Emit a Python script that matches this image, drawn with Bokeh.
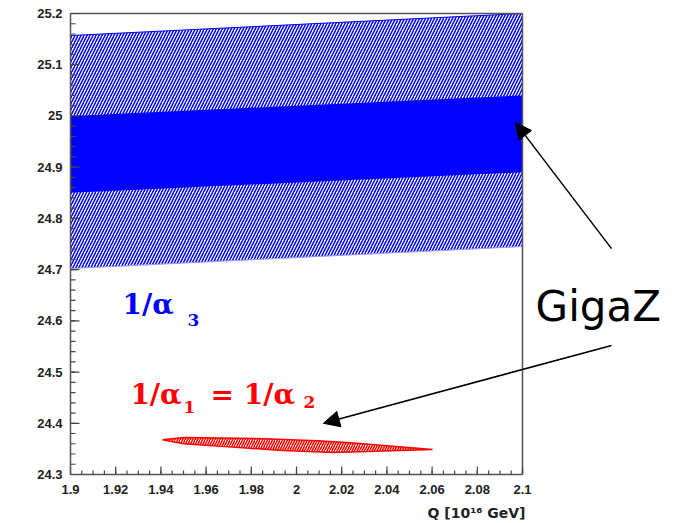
from bokeh.plotting import figure
from bokeh.models import Label, Arrow, NormalHead, ColumnDataSource, FixedTicker
from bokeh.embed import file_html
from bokeh.resources import INLINE

# ---- data ----
band_x = [1.9, 2.1]
outer_lo = [24.702, 24.745]
outer_hi = [25.157, 25.200]
inner_lo = [24.850, 24.890]
inner_hi = [25.000, 25.040]

ell_x = [1.9407, 1.950, 1.9854, 2.0093, 2.0239, 2.0602, 2.0164, 1.9942, 1.9796, 1.950]
ell_y = [24.368, 24.372, 24.370, 24.366, 24.362, 24.349, 24.343, 24.347, 24.351, 24.360]

x_min, x_max = 1.9, 2.1
y_min, y_max = 24.3, 25.2
x_major_step, x_minor_step = 0.02, 0.005
y_major_step, y_minor_step = 0.1, 0.02
x_label = "Q [10¹⁶ GeV]"

px_per_x = 452 / (x_max - x_min)
px_per_y = 461 / (y_max - y_min)
view_x = (x_min - 70 / px_per_x, x_max + 151 / px_per_x)
view_y = (y_min - 49 / px_per_y, y_max + 13 / px_per_y)

p = figure(width=673, height=523, output_backend="svg", toolbar_location=None,
           x_range=view_x, y_range=view_y,
           min_border_left=0, min_border_right=0, min_border_top=0, min_border_bottom=0)
p.grid.visible = False
p.outline_line_color = None
p.background_fill_color = "white"

src = ColumnDataSource(dict(x=band_x, olo=outer_lo, ohi=outer_hi, ilo=inner_lo, ihi=inner_hi))
p.varea(x="x", y1="olo", y2="ohi", source=src, fill_color="white",
        hatch_pattern="/", hatch_color="blue", hatch_scale=6, hatch_weight=1.5)
p.line(x="x", y="ohi", source=src, line_color="blue", line_width=1)
p.line(x="x", y="olo", source=src, line_color="#9999ff", line_width=1)
p.varea(x="x", y1="ilo", y2="ihi", source=src, fill_color="blue")

p.patch(ell_x, ell_y, fill_color="white", line_color="red", line_width=1.5,
        hatch_pattern="/", hatch_color="red", hatch_scale=5, hatch_weight=1.5)

p.segment(x0=[x_min, x_max], y0=[y_max, y_min], x1=[x_max, x_max], y1=[y_max, y_max],
          line_color="#555555", line_width=1.5)

def ticks(lo, hi, step):
    n = int(round((hi - lo) / step))
    return [round(lo + i * step, 4) for i in range(n + 1)]

xt_major = ticks(x_min, x_max, x_major_step)
xt_minor = ticks(x_min, x_max, x_minor_step)
yt_major = ticks(y_min, y_max, y_major_step)
yt_minor = ticks(y_min, y_max, y_minor_step)

def vticks(xs, length_px):
    return dict(x0=xs, x1=xs, y0=[y_min] * len(xs), y1=[y_min + length_px / px_per_y] * len(xs))

def hticks(ys, length_px):
    return dict(y0=ys, y1=ys, x0=[x_min] * len(ys), x1=[x_min + length_px / px_per_x] * len(ys))

tick_style = dict(line_color="#444444", line_width=1.2)
for d in (vticks(xt_major, 8), vticks(xt_minor, 4), hticks(yt_major, 9), hticks(yt_minor, 5)):
    p.segment(x0="x0", y0="y0", x1="x1", y1="y1", source=ColumnDataSource(d), **tick_style)

p.xaxis.fixed_location = y_min
p.yaxis.fixed_location = x_min
p.xaxis.bounds = (x_min, x_max)
p.yaxis.bounds = (y_min, y_max)
p.xaxis.ticker = FixedTicker(ticks=xt_major)
p.yaxis.ticker = FixedTicker(ticks=yt_major)
for ax in (p.xaxis[0], p.yaxis[0]):
    ax.major_tick_in = 0
    ax.major_tick_out = 0
    ax.minor_tick_in = 0
    ax.minor_tick_out = 0
    ax.axis_line_color = "#555555"
    ax.axis_line_width = 1.5
    ax.major_label_text_font = "Liberation Sans"
    ax.major_label_text_font_style = "bold"
    ax.major_label_text_font_size = "13px"
    ax.major_label_text_color = "#222222"

p.xaxis.major_label_standoff = 10
p.yaxis.major_label_standoff = 8

p.add_layout(Label(x=x_max, y=y_min, x_offset=3, y_offset=-38, text=x_label, text_align="right",
                   text_baseline="alphabetic",
                   text_font="DejaVu Sans", text_font_style="bold",
                   text_font_size="14px", text_color="#222222"))

serif = "DejaVu Serif"
common = dict(text_font=serif, text_font_style="bold", text_baseline="alphabetic")
p.add_layout(Label(x=1.923, y=24.610, y_offset=11, text="1/α", text_color="blue", text_font_size="28px", **common))
p.add_layout(Label(x=1.9518, y=24.587, y_offset=7, text="3", text_color="blue", text_font_size="17px", **common))

p.add_layout(Label(x=1.9265, y=24.435, y_offset=11, text="1/α", text_color="red", text_font_size="28px", **common))
p.add_layout(Label(x=1.950, y=24.419, y_offset=7, text="1", text_color="red", text_font_size="17px", **common))
p.add_layout(Label(x=1.962, y=24.435, y_offset=11, text="= 1/α", text_color="red", text_font_size="28px", **common))
p.add_layout(Label(x=2.0031, y=24.427, y_offset=7, text="2", text_color="red", text_font_size="17px", **common))

p.add_layout(Label(x=2.1058, y=24.597, y_offset=16, text="GigaZ", text_color="black", text_baseline="alphabetic",
                   text_font="DejaVu Sans", text_font_size="42px"))

head = dict(fill_color="black", line_color="black", size=16)
p.add_layout(Arrow(end=NormalHead(**head), x_start=2.1394, y_start=24.741,
                   x_end=2.0969, y_end=24.987, line_width=1.5, line_color="black"))
p.add_layout(Arrow(end=NormalHead(**head), x_start=2.1394, y_start=24.552,
                   x_end=2.0119, y_end=24.400, line_width=1.5, line_color="black"))

open("out.html", "w").write(file_html(p, INLINE))
